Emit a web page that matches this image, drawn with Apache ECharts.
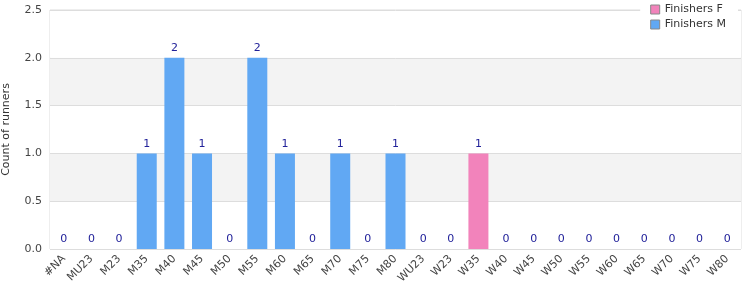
<!DOCTYPE html>
<html><head><meta charset="utf-8">
<script src="https://cdn.jsdelivr.net/npm/echarts@6/dist/echarts.min.js"></script>
<style>html,body{margin:0;padding:0;background:#fff}#c{width:750px;height:300px}</style>
</head><body><div id="c"></div>
<script>
var categories = ['#NA','MU23','M23','M35','M40','M45','M50','M55','M60','M65','M70','M75','M80','WU23','W23','W35','W40','W45','W50','W55','W60','W65','W70','W75','W80'];
var finishersF = [0,0,0,0,0,0,0,0,0,0,0,0,0,0,0,1,0,0,0,0,0,0,0,0,0];
var finishersM = [0,0,0,1,2,1,0,2,1,0,1,0,1,0,0,0,0,0,0,0,0,0,0,0,0];
var yTicks = [0,0.5,1,1.5,2,2.5];

var totals = categories.map(function(_, i){ return finishersF[i] + finishersM[i]; });
var font = 'DejaVu Sans';
var chart = echarts.init(document.getElementById('c'), null, {renderer:'canvas'});
chart.setOption({
  animation:false,
  textStyle:{fontFamily:font},
  grid:{left:50,right:9,top:10,bottom:51,containLabel:false,outerBoundsMode:'none',show:true,borderColor:'#ddd',borderWidth:1,backgroundColor:'transparent'},
  legend:{
    orient:'vertical', right:12, top:2,
    data:['Finishers F','Finishers M'],
    itemWidth:9,itemHeight:9,itemGap:4,
    backgroundColor:'#fff', padding:[2,12,4,10],
    textStyle:{fontFamily:font,fontSize:11,color:'#333'},
    icon:'rect',
    itemStyle:{borderColor:'#888',borderWidth:1}
  },
  xAxis:{
    type:'category', data:categories,
    axisLine:{show:false}, axisTick:{show:false},
    axisLabel:{rotate:45,interval:0,fontSize:11,color:'#444',fontFamily:font,margin:8}
  },
  yAxis:{
    type:'value', min:yTicks[0], max:yTicks[yTicks.length-1], interval:0.5,
    name:'Count of runners', nameLocation:'middle', nameGap:38,
    nameTextStyle:{fontFamily:font,fontSize:11,color:'#333'},
    axisLabel:{formatter:function(v){return v.toFixed(1);},fontSize:11,color:'#444',fontFamily:font},
    splitLine:{lineStyle:{color:'#ddd'}},
    splitArea:{show:true,areaStyle:{color:['#ffffff','#f3f3f3']}}
  },
  series:[
    {name:'Finishers F',type:'bar',stack:'a',data:finishersF,barWidth:20,
     itemStyle:{color:'#f283bb',borderWidth:0}},
    {name:'Finishers M',type:'bar',stack:'a',data:finishersM,barWidth:20,
     itemStyle:{color:'#61a8f3',borderWidth:0},
     label:{show:true,position:'top',distance:4,fontSize:11,color:'#22229a',fontFamily:font,
       formatter:function(p){return String(totals[p.dataIndex]);}}}
  ]
});
</script></body></html>
